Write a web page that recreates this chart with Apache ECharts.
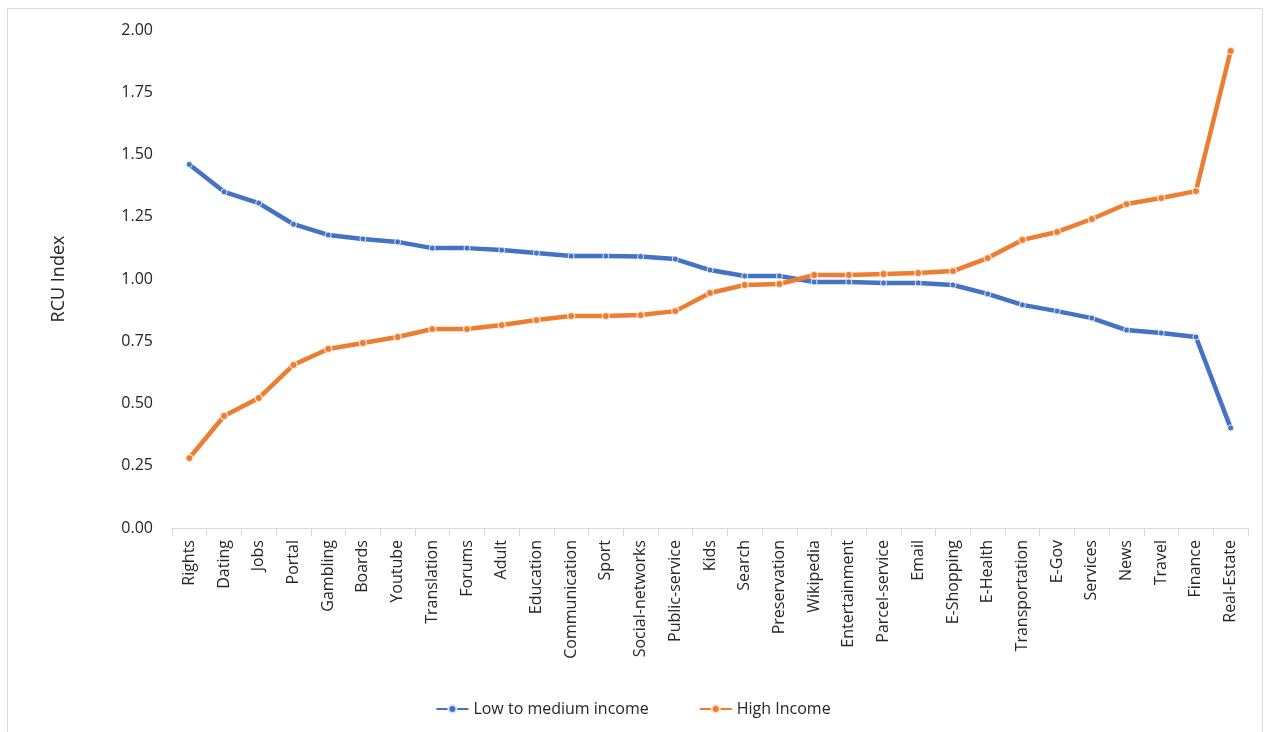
<!DOCTYPE html>
<html lang="en">
<head>
  <meta charset="UTF-8">
  <script src="https://cdn.jsdelivr.net/npm/echarts@6.0.0/dist/echarts.min.js"></script>
  <style>
    body { margin: 0; background: #fff; }
  </style>
</head>
<body>
  <div id="main" style="width: 1266px;height:732px;"></div>
  <script type="text/javascript">
    // categories, sorted by low/medium income RCU
    var categories = ['Rights', 'Dating', 'Jobs', 'Portal', 'Gambling', 'Boards', 'Youtube', 'Translation',
      'Forums', 'Adult', 'Education', 'Communication', 'Sport', 'Social-networks', 'Public-service', 'Kids',
      'Search', 'Preservation', 'Wikipedia', 'Entertainment', 'Parcel-service', 'Email', 'E-Shopping',
      'E-Health', 'Transportation', 'E-Gov', 'Services', 'News', 'Travel', 'Finance', 'Real-Estate'];

    var lowMedium = [1.46, 1.35, 1.305, 1.22, 1.177, 1.161, 1.149, 1.124, 1.124, 1.116, 1.104, 1.092, 1.092,
      1.09, 1.08, 1.036, 1.012, 1.012, 0.988, 0.988, 0.984, 0.984, 0.976, 0.94, 0.896, 0.871, 0.843,
      0.795, 0.783, 0.767, 0.402];

    var highIncome = [0.281, 0.45, 0.522, 0.655, 0.719, 0.743, 0.767, 0.799, 0.799, 0.815, 0.835, 0.851, 0.851,
      0.855, 0.871, 0.944, 0.976, 0.98, 1.016, 1.016, 1.02, 1.024, 1.032, 1.084, 1.157, 1.189, 1.241,
      1.301, 1.325, 1.353, 1.916];

    var font = 'Open Sans';
    var myChart = echarts.init(document.getElementById('main'));
    myChart.setOption({
      animation: false,
      textStyle: { fontFamily: font },
      graphic: [{
        type: 'rect',
        shape: { x: 7.5, y: 8.5, width: 1255, height: 730 },
        style: { fill: 'none', stroke: '#d9d9d9', lineWidth: 1 },
        silent: true
      }],
      grid: { left: 172, right: 18, top: 30, bottom: 204 },
      legend: {
        bottom: 10,
        left: 'center',
        itemWidth: 32,
        itemHeight: 10,
        itemGap: 50,
        textStyle: { fontSize: 16, color: '#262626', fontFamily: font },
        data: ['Low to medium income', 'High Income']
      },
      xAxis: {
        type: 'category',
        data: categories,
        boundaryGap: true,
        axisLine: { lineStyle: { color: '#d9d9d9', width: 1 } },
        axisTick: { show: true, length: 8, lineStyle: { color: '#d9d9d9' } },
        axisLabel: { rotate: 90, interval: 0, fontSize: 16, color: '#262626', margin: 12 }
      },
      yAxis: {
        type: 'value',
        min: 0,
        max: 2,
        interval: 0.25,
        name: 'RCU Index',
        nameLocation: 'middle',
        nameGap: 104,
        nameRotate: 90,
        nameTextStyle: { fontSize: 18, color: '#262626' },
        axisLine: { show: false },
        axisTick: { show: false },
        splitLine: { show: false },
        axisLabel: {
          fontSize: 16, color: '#262626', margin: 19,
          formatter: function (v) { return v.toFixed(2); }
        }
      },
      series: [{
        name: 'Low to medium income',
        type: 'line',
        data: lowMedium,
        symbol: 'circle',
        symbolSize: 6,
        lineStyle: { color: '#4472c4', width: 4.5 },
        itemStyle: { color: '#4472c4', borderColor: '#dfe7f5', borderWidth: 1 }
      }, {
        name: 'High Income',
        type: 'line',
        data: highIncome,
        symbol: 'circle',
        symbolSize: 7,
        lineStyle: { color: '#ed7d31', width: 4.5 },
        itemStyle: { color: '#ed7d31', borderColor: '#fbe3d3', borderWidth: 1.2 }
      }]
    });
  </script>
</body>
</html>
